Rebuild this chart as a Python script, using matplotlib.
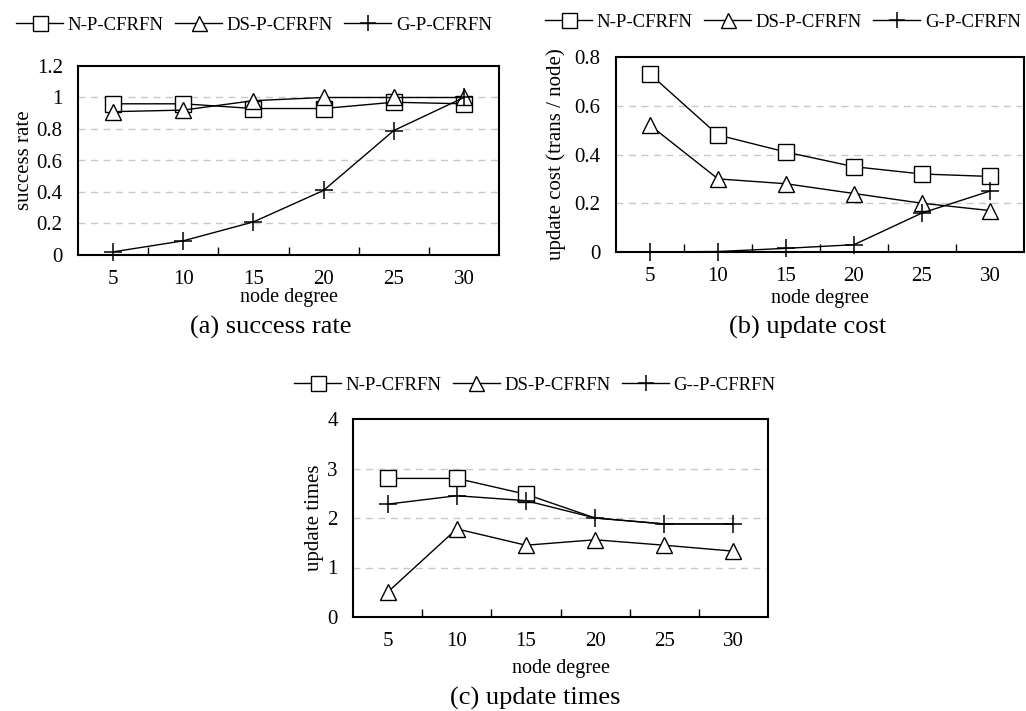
import numpy as np
import matplotlib
matplotlib.use("Agg")
import matplotlib.pyplot as plt

plt.rcParams['font.family'] = ['Liberation Serif', 'DejaVu Serif']

node_degree = [5, 10, 15, 20, 25, 30]

# (a) success rate
a_np = [0.96, 0.96, 0.93, 0.93, 0.97, 0.96]
a_ds = [0.91, 0.92, 0.98, 1.00, 1.00, 1.00]
a_g = [0.02, 0.09, 0.21, 0.41, 0.79, 1.00]

# (b) update cost
b_np = [0.73, 0.48, 0.41, 0.35, 0.32, 0.31]
b_ds = [0.52, 0.30, 0.28, 0.24, 0.20, 0.17]
b_g = [0.0, 0.002, 0.015, 0.03, 0.16, 0.25]

# (c) update times
c_np = [2.8, 2.8, 2.48, 2.0, 1.88, 1.88]
c_ds = [0.5, 1.78, 1.45, 1.56, 1.45, 1.33]
c_g = [2.28, 2.45, 2.35, 2.0, 1.88, 1.88]

W, H = 1026, 711
fig = plt.figure(figsize=(W / 100, H / 100), dpi=100)


def box(l, r, t, b):
    return [l / W, (H - b) / H, (r - l) / W, (b - t) / H]


def make_panel(rect, ys, names, ylim, yticks, ylabel, ylab_x, caption,
               cap_x, cap_y, xlab_y, leg_cx, leg_y, np_markevery=None):
    ax = fig.add_axes(box(*rect))
    x = np.arange(1, len(node_degree) + 1)
    styles = [dict(marker='s', ms=12, markevery=np_markevery),
              dict(marker='^', ms=12),
              dict(marker='+', ms=13, mew=1.1)]
    handles = []
    for y, name, st in zip(ys, names, styles):
        h, = ax.plot(x, y, color='black', lw=1.0, mfc='white', mec='black',
                     label=name, clip_on=False, zorder=3, **st)
        handles.append(h)
    ax.set_xlim(0.5, len(node_degree) + 0.5)
    ax.set_ylim(*ylim)
    ax.set_xticks(x, [str(v) for v in node_degree])
    ax.set_xticks(np.arange(1.5, len(node_degree), 1.0), minor=True)
    ax.tick_params(axis='x', which='major', length=0, pad=11, labelsize=15)
    ax.tick_params(axis='x', which='minor', length=6, direction='in', width=1)
    ax.set_yticks(yticks)
    ax.set_yticklabels([('%g' % v) for v in yticks])
    ax.tick_params(axis='y', length=0, pad=11, labelsize=15)
    for v in yticks[1:-1]:
        ax.axhline(v, color='#c8c8c8', lw=1.0, ls=(0, (5, 4)), zorder=1)
    for s in ax.spines.values():
        s.set_linewidth(1.5)
    ax.set_xlabel('node degree', fontsize=14.5, va='center')
    ax.xaxis.set_label_coords(0.5, (rect[3] - xlab_y) / (rect[3] - rect[2]))
    ax.set_ylabel(ylabel, fontsize=15, va='center')
    ax.yaxis.set_label_coords((ylab_x - rect[0]) / (rect[1] - rect[0]), 0.5)
    fig.text(cap_x / W, 1 - cap_y / H, caption, fontsize=19, ha='center', va='center')
    fig.legend(handles=handles, loc='center', bbox_to_anchor=(leg_cx / W, 1 - leg_y / H),
               ncol=3, frameon=False, fontsize=13.5, handlelength=2.5,
               handletextpad=0.25, columnspacing=0.6, borderaxespad=0,
               borderpad=0.1, markerscale=0.9)
    return ax


make_panel((78, 499, 66, 255), [a_np, a_ds, a_g],
           ['N-P-CFRFN', 'DS-P-CFRFN', 'G-P-CFRFN'],
           (0, 1.2), [0, 0.2, 0.4, 0.6, 0.8, 1.0, 1.2], 'success rate', 25,
           '(a) success rate', 271, 327, 298, 254, 25)

make_panel((616, 1024, 57, 252), [b_np, b_ds, b_g],
           ['N-P-CFRFN', 'DS-P-CFRFN', 'G-P-CFRFN'],
           (0, 0.8), [0, 0.2, 0.4, 0.6, 0.8], 'update cost (trans / node)', 556,
           '(b) update cost', 808, 327, 298, 783, 22)

make_panel((353, 768, 419, 617), [c_np, c_ds, c_g],
           ['N-P-CFRFN', 'DS-P-CFRFN', 'G--P-CFRFN'],
           (0, 4), [0, 1, 2, 3, 4], 'update times', 315,
           '(c) update times', 535, 698, 668, 535, 385, np_markevery=[0, 1, 2])

fig.savefig('out.png', dpi=100)
